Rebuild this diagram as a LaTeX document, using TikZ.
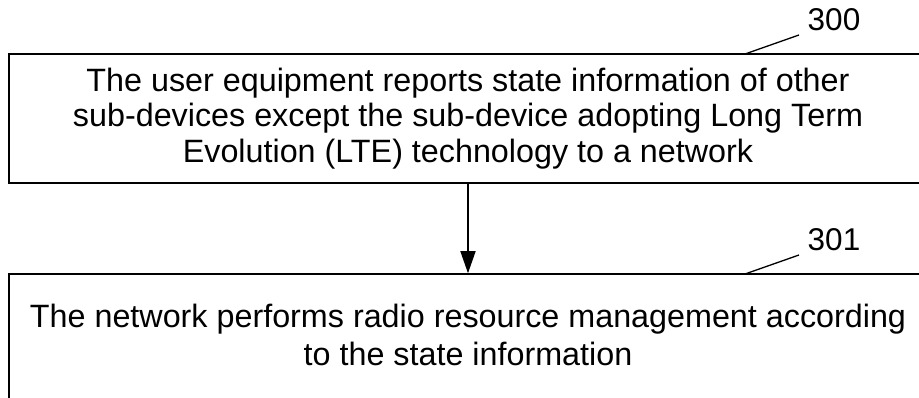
\documentclass[tikz,border=0pt]{standalone}
\usepackage{fontspec}
\setmainfont{Liberation Sans}
\usetikzlibrary{arrows.meta}
\begin{document}
\begin{tikzpicture}[x=1pt,y=-1pt,
  stepbox/.style={draw,line width=1.5pt,rectangle,inner sep=0pt,align=center,
    font=\fontsize{32.3}{35.8}\selectfont},
  steptext/.style={inner sep=0pt,align=center,font=\fontsize{32.3}{38.5}\selectfont},
  reflabel/.style={font=\fontsize{31.5}{36}\selectfont,inner sep=0pt},
  leader/.style={line width=1.3pt},
  flow/.style={line width=1.5pt,-{Triangle[length=22pt,width=15pt]}}]
\useasboundingbox (0,0) rectangle (919,398);
\clip (0,0) rectangle (919,398);
\node[stepbox,minimum width=918pt,minimum height=129pt] (s300) at (468,118.5)
  {The user equipment reports state information of other\\
   sub-devices except the sub-device adopting Long Term\\
   Evolution (LTE) technology to a network};
\node[stepbox,minimum width=918pt,minimum height=140pt] (s301) at (468,344) {};
\node[steptext] (t301) at (468,335)
  {The network performs radio resource management according\\
   to the state information};
\draw[flow] (s300.south) -- (s301.north);
\node[reflabel] (l300) at (834,20) {300};
\node[reflabel] (l301) at (834,240) {301};
\coordinate (c300a) at (745,54);
\coordinate (c300b) at (799,35);
\coordinate (c301a) at (745,274);
\coordinate (c301b) at (799,255);
\draw[leader] (c300a) -- (c300b);
\draw[leader] (c301a) -- (c301b);
\end{tikzpicture}
\end{document}
